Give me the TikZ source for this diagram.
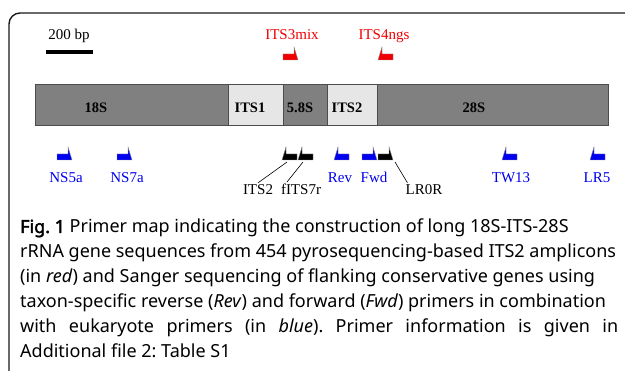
\documentclass[tikz,border=0pt]{standalone}
\usepackage{fontspec}
\setmainfont{Liberation Serif}
\newfontfamily\captionfont[AutoFakeBold=2.5]{Noto Sans}
\usetikzlibrary{positioning,calc}
\frenchspacing

\definecolor{rrnadark}{RGB}{128,128,128}
\definecolor{rrnalight}{RGB}{230,230,230}
\definecolor{primerblue}{RGB}{0,0,240}
\definecolor{primerred}{RGB}{240,0,0}

\tikzset{
  pics/fwd/.style={code={
    \filldraw[draw=black!45, line width=0.4pt, fill=#1]
      (0,0) -- (15,0) -- (11,-13) -- (11,-6) -- (0,-6) -- cycle;}},
  pics/rev/.style={code={
    \filldraw[draw=black!45, line width=0.4pt, fill=#1]
      (0,0) -- (15,0) -- (15,-6) -- (4,-6) -- (4,-13) -- cycle;}}
}

\begin{document}
\begin{tikzpicture}[
  x=1pt, y=-1pt,
  segment/.style={draw=black!70, line width=0.5pt},
  seglabel/.style={font=\fontsize{14.5}{16}\selectfont\bfseries, inner sep=0pt},
  primerlabel/.style={font=\fontsize{15}{17}\selectfont, inner sep=0pt},
  leader/.style={draw, line width=0.6pt}
]
\useasboundingbox (0,0) rectangle (625,371);

% frame
\draw[line width=1.4pt, black!90, rounded corners=11pt] (9,380) -- (9,13) -- (640,13);

% scale bar
\node[primerlabel, anchor=base] (scale) at (69,40) {200 bp};
\draw[line width=4pt] (46,52) -- (93,52);

% rRNA segments
\draw[segment, fill=rrnadark]  (35,84) rectangle (228,125);
\draw[segment, fill=rrnalight] (228,84) rectangle (283,125);
\draw[segment, fill=rrnadark]  (283,84) rectangle (327,125);
\draw[segment, fill=rrnalight] (327,84) rectangle (377,125);
\draw[segment, fill=rrnadark]  (377,84) rectangle (608,125);
\node[seglabel] (s18)  at (96,108)  {18S};
\node[seglabel] (its1) at (250,108) {ITS1};
\node[seglabel] (s58)  at (300,108) {5.8S};
\node[seglabel] (its2) at (347,108) {ITS2};
\node[seglabel] (s28)  at (474,108) {28S};

% 454 primers
\pic at (283,60) {fwd=primerred};
\pic at (378,60) {rev=primerred};
\node[primerlabel, text=primerred, anchor=base] (ITS3mix) at (292,40) {ITS3mix};
\node[primerlabel, text=primerred, anchor=base] (ITS4ngs) at (384,40) {ITS4ngs};

% primers below the gene
\pic at (57,160)  {fwd=primerblue};
\pic at (117,160) {fwd=primerblue};
\pic at (282,160) {rev=black};
\pic at (298,160) {rev=black};
\pic at (334,160) {rev=primerblue};
\pic at (362,160) {fwd=primerblue};
\pic at (378,160) {fwd=black};
\pic at (502,160) {rev=primerblue};
\pic at (590,160) {rev=primerblue};

\coordinate (pITS2)  at (287,162);
\coordinate (pfITS7) at (303,162);
\coordinate (pLR0R)  at (395,162);

\node[primerlabel, text=primerblue, anchor=base] (NS5a) at (66,183)  {NS5a};
\node[primerlabel, text=primerblue, anchor=base] (NS7a) at (127,183) {NS7a};
\node[primerlabel, text=primerblue, anchor=base] (Rev)  at (340,183) {Rev};
\node[primerlabel, text=primerblue, anchor=base] (Fwd)  at (374,183) {Fwd};
\node[primerlabel, text=primerblue, anchor=base] (TW13) at (511,183) {TW13};
\node[primerlabel, text=primerblue, anchor=base] (LR5)  at (597,183) {LR5};
\node[primerlabel, anchor=base] (ITS2)  at (258,195) {ITS2};
\node[primerlabel, anchor=base] (fITS7r) at (301,195) {fITS7r};
\node[primerlabel, anchor=base] (LR0R)  at (424,195) {LR0R};

\draw[leader] (ITS2.north) ++(0,-2) -- (pITS2);
\draw[leader] (fITS7r.north west) ++(6,-2) -- (pfITS7);
\draw[leader] (LR0R.north west) ++(2,-2) -- (pLR0R);

% caption
\node[anchor=north west, inner sep=0pt, text width=598pt, align=justify,
      font=\captionfont\fontsize{18}{25}\selectfont] (caption) at (20,219)
  {\textbf{Fig. 1} Primer map indicating the construction of long 18S-ITS-28S\\
   rRNA gene sequences from 454 pyrosequencing-based ITS2 amplicons\\
   (in \textit{red}) and Sanger sequencing of flanking conservative genes using\\
   taxon-specific reverse (\textit{Rev}) and forward (\textit{Fwd}) primers in combination\\
   \makebox[598pt][s]{with eukaryote primers (in \textit{blue}). Primer information is given in}\\
   Additional file 2: Table S1};
\end{tikzpicture}
\end{document}
